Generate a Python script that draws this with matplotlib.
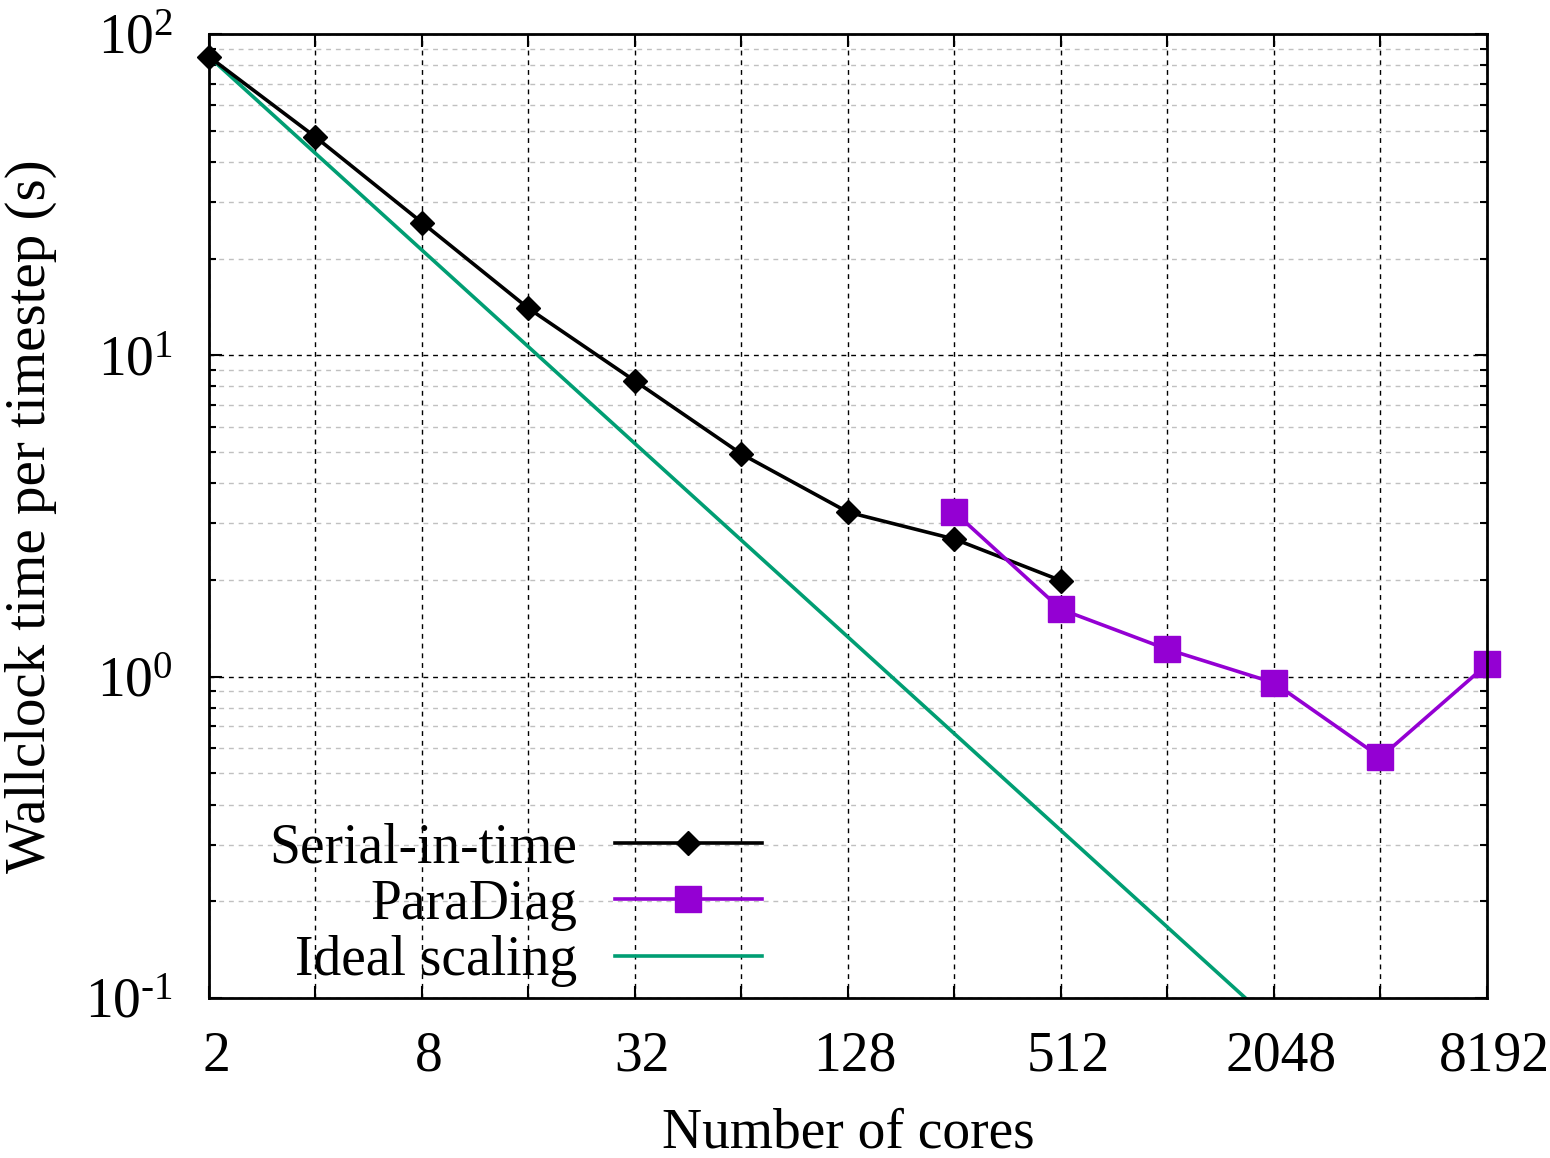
import matplotlib
matplotlib.use('Agg')
import matplotlib.pyplot as plt
import matplotlib.transforms as mtransforms
from matplotlib.ticker import FixedLocator, FuncFormatter, LogLocator, NullFormatter, NullLocator
from matplotlib.lines import Line2D
import math

plt.rcParams['font.family'] = ['Liberation Serif', 'DejaVu Serif']
plt.rcParams['mathtext.fontset'] = 'custom'
plt.rcParams['mathtext.rm'] = 'Liberation Serif'
plt.rcParams['mathtext.it'] = 'Liberation Serif:italic'
plt.rcParams['mathtext.bf'] = 'Liberation Serif:bold'
plt.rcParams['axes.unicode_minus'] = False

# ---- data ----
cores_serial = [2, 4, 8, 16, 32, 64, 128, 256, 512]
time_serial = [85.0, 47.8, 25.9, 14.0, 8.32, 4.93, 3.25, 2.68, 1.99]

cores_paradiag = [256, 512, 1024, 2048, 4096, 8192]
time_paradiag = [3.25, 1.62, 1.216, 0.957, 0.561, 1.092]

cores_ideal = [2, 8192]
time_ideal = [85.0, 0.02075]

xtick_values = [2, 4, 8, 16, 32, 64, 128, 256, 512, 1024, 2048, 4096, 8192]
xtick_labeled = [2, 8, 32, 128, 512, 2048, 8192]

label_serial = 'Serial-in-time'
label_paradiag = 'ParaDiag'
label_ideal = 'Ideal scaling'

c_serial = '#000000'
c_paradiag = '#9400D3'
c_ideal = '#009E73'

FS = 40
LW = 2.6

fig = plt.figure(figsize=(15.5, 11.58), dpi=100)
W, H = 1550, 1158
L, R, T, B = 209, 1487, 34, 998
ax = fig.add_axes([L / W, 1 - B / H, (R - L) / W, (B - T) / H])

ax.set_xscale('log', base=2)
ax.set_yscale('log')

ax.plot(cores_serial, time_serial, color=c_serial, lw=LW, marker='D', ms=12.5,
        clip_on=False, zorder=5)
ax.plot(cores_paradiag, time_paradiag, color=c_paradiag, lw=LW, marker='s', ms=18.5,
        clip_on=False, zorder=5)
ax.plot(cores_ideal, time_ideal, color=c_ideal, lw=LW, zorder=4)

ax.set_xlim(2, 8192)
ax.set_ylim(0.1, 100)


def yfmt(v, p):
    e = int(round(math.log10(v)))
    s = str(e).replace('-', '\u2010')
    return r'$\mathdefault{10^{%s}}$' % s


ax.xaxis.set_major_locator(FixedLocator(xtick_values))
ax.xaxis.set_major_formatter(FuncFormatter(lambda v, p: str(int(round(v))) if int(round(v)) in xtick_labeled else ''))
ax.xaxis.set_minor_locator(NullLocator())
ax.yaxis.set_major_locator(LogLocator(base=10))
ax.yaxis.set_major_formatter(FuncFormatter(yfmt))
ax.yaxis.set_minor_locator(LogLocator(base=10, subs=[2, 3, 4, 5, 6, 7, 8, 9]))
ax.yaxis.set_minor_formatter(NullFormatter())

ax.tick_params(which='both', direction='in', top=True, right=True, labelsize=FS, width=1.5)
ax.tick_params(which='major', length=9)
ax.tick_params(which='minor', length=5)
ax.tick_params(axis='x', pad=23.5)
ax.tick_params(axis='y', pad=26)

# gnuplot-like slight right shift of x tick labels
offset = mtransforms.ScaledTranslation(7 / 100, 0, fig.dpi_scale_trans)
for lab in ax.xaxis.get_majorticklabels():
    lab.set_transform(lab.get_transform() + offset)

dash = (0, (3.5, 3.5))
ax.grid(which='major', axis='both', color='black', ls=dash, lw=1.0)
ax.grid(which='minor', axis='y', color='#c0c0c0', ls=dash, lw=1.0)
ax.set_axisbelow(True)

for s in ax.spines.values():
    s.set_linewidth(2.0)
    s.set_zorder(6)

ax.set_xlabel('Number of cores', fontsize=FS)
ax.set_ylabel('Wallclock time per timestep (s)', fontsize=41)
ax.xaxis.set_label_coords(0.5, (B - 1107) / (B - T))
ax.yaxis.set_label_coords((57 - L) / (R - L), 0.5)

handles = [
    Line2D([], [], color=c_serial, lw=LW, marker='D', ms=12.5),
    Line2D([], [], color=c_paradiag, lw=LW, marker='s', ms=18.5),
    Line2D([], [], color=c_ideal, lw=LW),
]
leg = ax.legend(handles, [label_serial, label_paradiag, label_ideal],
                loc='lower right', bbox_to_anchor=(762 / W, 1 - 987 / H),
                bbox_transform=fig.transFigure, frameon=False, fontsize=FS,
                markerfirst=False, numpoints=1, handlelength=2.65, handletextpad=0.67,
                labelspacing=0.076, borderpad=0, borderaxespad=0)
leg._legend_box.align = 'right'

fig.savefig('out.png', dpi=100)
